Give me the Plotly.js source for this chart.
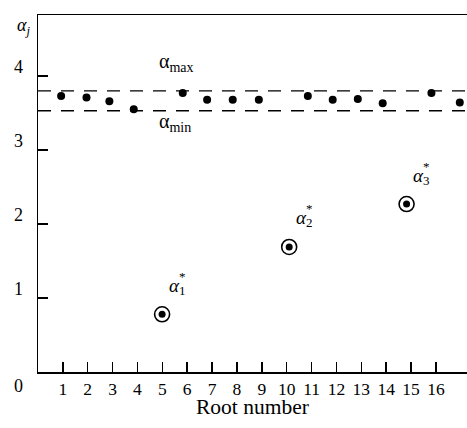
<!DOCTYPE html>
<html>
<head>
<meta charset="utf-8">
<script src="https://cdn.plot.ly/plotly-3.0.1.min.js"></script>
<style>html,body{margin:0;padding:0;background:#fff;}</style>
</head>
<body>
<div id="chart" style="width:467px;height:428px;"></div>
<script>
// Root positions and their alpha values
const rootX = [0.93, 1.95, 2.87, 3.85, 4.99, 5.82, 6.80, 7.83, 8.88, 10.10, 10.85, 11.85, 12.86, 13.86, 14.82, 15.82, 16.96];
const alphaVals = [3.73, 3.71, 3.66, 3.55, 0.78, 3.77, 3.68, 3.68, 3.68, 1.69, 3.73, 3.68, 3.69, 3.63, 2.27, 3.77, 3.64];
// indices of the special roots alpha*_1, alpha*_2, alpha*_3
const specialIdx = [4, 9, 14];
const specialNames = ["1", "2", "3"];
const alphaMax = 3.80;
const alphaMin = 3.53;
const xTicks = [1,2,3,4,5,6,7,8,9,10,11,12,13,14,15,16];
const yTicks = [1,2,3,4];

const FONT = "'Liberation Serif', 'Times New Roman', serif";

const normX = [], normY = [], spX = [], spY = [];
rootX.forEach((x, i) => {
  if (specialIdx.includes(i)) { spX.push(x); spY.push(alphaVals[i]); }
  else { normX.push(x); normY.push(alphaVals[i]); }
});

const traces = [
  {x: normX, y: normY, type: 'scatter', mode: 'markers',
   marker: {color: '#000', size: 8}, hoverinfo: 'skip'},
  {x: spX, y: spY, type: 'scatter', mode: 'markers',
   marker: {color: '#000', size: 15, symbol: 'circle-open', line: {color: '#000', width: 1.6}}, hoverinfo: 'skip'},
  {x: spX, y: spY, type: 'scatter', mode: 'markers',
   marker: {color: '#000', size: 7}, hoverinfo: 'skip'}
];

const annotations = [];
spX.forEach((x, k) => {
  const y = spY[k];
  annotations.push({x: x, y: y, xref: 'x', yref: 'y', text: '<i>α</i>', showarrow: false,
    xshift: 12, yshift: 29, font: {family: FONT, size: 19, color: '#000'}});
  annotations.push({x: x, y: y, xref: 'x', yref: 'y', text: '*', showarrow: false,
    xshift: 20, yshift: 38, font: {family: FONT, size: 13, color: '#000'}});
  annotations.push({x: x, y: y, xref: 'x', yref: 'y', text: specialNames[k], showarrow: false,
    xshift: 20, yshift: 24, font: {family: FONT, size: 13, color: '#000'}});
});
annotations.push({x: 0.277, y: alphaMax, xref: 'paper', yref: 'y', xanchor: 'left', text: 'α<sub>max</sub>', showarrow: false,
  yshift: 28, font: {family: FONT, size: 20, color: '#000'}});
annotations.push({x: 0.277, y: alphaMin, xref: 'paper', yref: 'y', xanchor: 'left', text: 'α<sub>min</sub>', showarrow: false,
  yshift: -12, font: {family: FONT, size: 20, color: '#000'}});
// y tick labels sit a little above their ticks in the reference
yTicks.concat([0]).forEach(v => {
  annotations.push({x: 0, y: v, xref: 'paper', yref: 'y', xanchor: 'right', text: String(v), showarrow: false,
    xshift: -13, yshift: v === 0 ? -14 : 9, font: {family: FONT, size: 18, color: '#000'}});
});
annotations.push({x: 0, y: 1, xref: 'paper', yref: 'paper', text: '<i>α<sub>j</sub></i>', showarrow: false,
  xshift: -23, yshift: 2, font: {family: FONT, size: 18, color: '#000'}});
annotations.push({x: 0.5, y: 0, xref: 'paper', yref: 'paper', yanchor: 'middle', text: 'Root number', showarrow: false,
  yshift: -35, font: {family: FONT, size: 21.5, color: '#000'}});

const shapes = [alphaMax, alphaMin].map(v => ({
  type: 'line', xref: 'paper', yref: 'y', x0: 0, x1: 1, y0: v, y1: v,
  line: {color: '#000', width: 1.3, dash: '13px,10px'}
}));

const layout = {
  width: 467, height: 428,
  margin: {l: 38, r: 0, t: 15, b: 56},
  paper_bgcolor: '#fff', plot_bgcolor: '#fff',
  showlegend: false,
  font: {family: FONT, size: 18, color: '#000'},
  xaxis: {
    range: [0, 17.25], showgrid: false, zeroline: false,
    showline: true, mirror: true, linecolor: '#000', linewidth: 1.5,
    ticks: 'inside', ticklen: 10, tickwidth: 1.5, tickcolor: '#000',
    tickmode: 'array', tickvals: xTicks, ticktext: xTicks.map(String),
    tickfont: {family: FONT, size: 17.5, color: '#000'}
  },
  yaxis: {
    range: [0, 4.824], showgrid: false, zeroline: false,
    showline: true, linecolor: '#000', linewidth: 1.5,
    ticks: 'inside', ticklen: 10, tickwidth: 1.5, tickcolor: '#000',
    tickmode: 'array', tickvals: yTicks, showticklabels: false
  },
  shapes: shapes,
  annotations: annotations
};

Plotly.newPlot('chart', traces, layout, {staticPlot: true, displayModeBar: false});
</script>
</body>
</html>
